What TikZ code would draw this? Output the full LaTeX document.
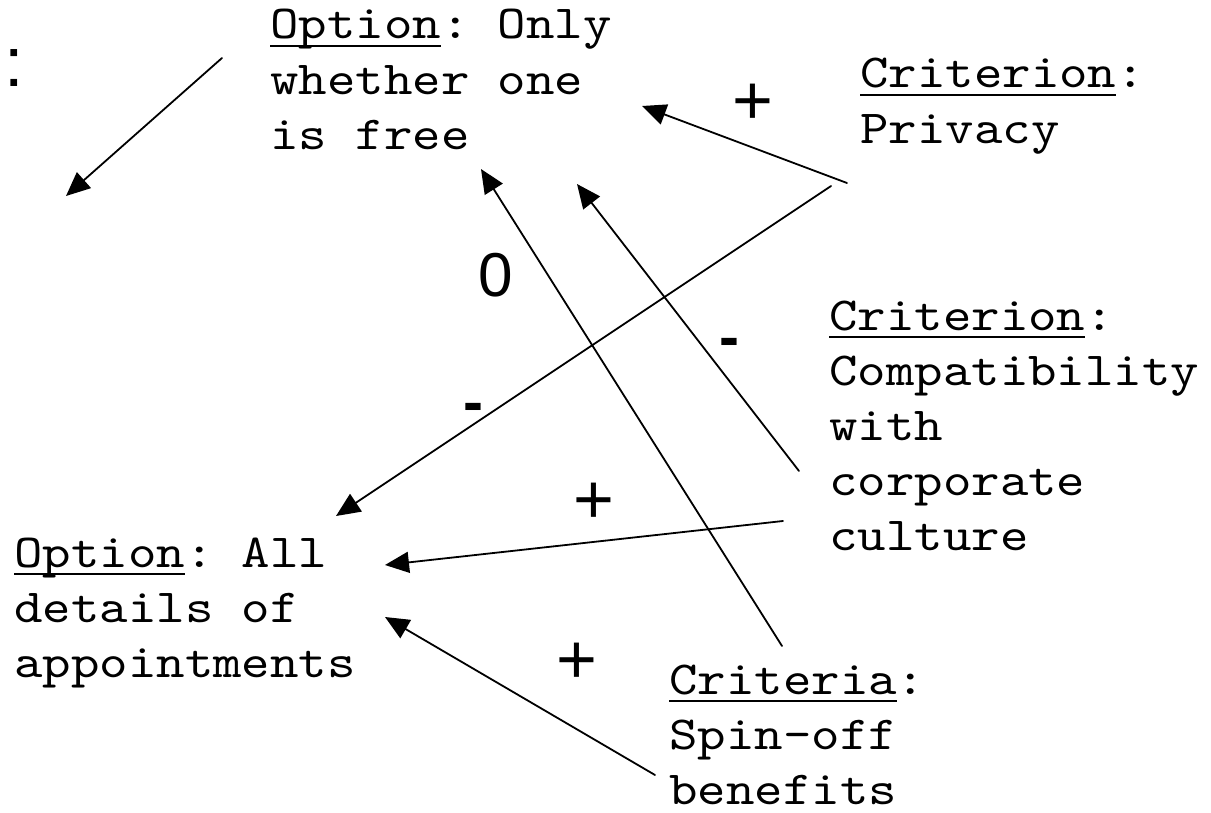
\documentclass[tikz,border=0pt]{standalone}
\usepackage{fontspec}
\setmainfont{Liberation Sans}
\setmonofont{lmmono10-regular.otf}[FakeStretch=1.143]
\usetikzlibrary{arrows.meta}
\newsavebox\ulbox
\newcommand{\ulword}[1]{\sbox\ulbox{#1}\rlap{\rule[-4pt]{\wd\ulbox}{1pt}}\usebox\ulbox}
\tikzset{
    sign/.style={
        font=\fontsize{35}{40}\selectfont
    }
}

\begin{document}
\begin{tikzpicture}[x=0.5pt,y=-0.5pt, line cap=round, line join=round]

\tikzset{
  main/.style={draw=black, line width=0.9pt, -{Triangle[length=12pt,width=10.5pt]}},
  txt/.style={anchor=base west, inner sep=0pt, font=\ttfamily\fontsize{23.7}{27.6}\selectfont},
}

\useasboundingbox (0,0) rectangle (1211,813);

% options and criteria
\node[txt] (optfree) at (270,39) {\begin{tabular}[t]{@{}l@{}}\ulword{Option}: Only\\whether one\\is free\end{tabular}};
\node[txt] (privacy) at (860,88) {\begin{tabular}[t]{@{}l@{}}\ulword{Criterion}:\\Privacy\end{tabular}};
\node[txt] (compat) at (829,330) {\begin{tabular}[t]{@{}l@{}}\ulword{Criterion}:\\Compatibility\\with\\corporate\\culture\end{tabular}};
\node[txt] (optall) at (14,567) {\begin{tabular}[t]{@{}l@{}}\ulword{Option}: All\\details of\\appointments\end{tabular}};
\node[txt] (spinoff) at (669,694) {\begin{tabular}[t]{@{}l@{}}\ulword{Criteria}:\\Spin-off\\benefits\end{tabular}};

% cut-off text at the left edge
\node[anchor=base west, inner sep=0pt, font=\fontsize{35}{40}\selectfont] (cut) at (4,87) {:};

% arrow ends
\coordinate (cut-a) at (222,58);
\coordinate (cut-b) at (66,196);
\coordinate (privacy-a) at (847,183);
\coordinate (privacy-b) at (831,186);
\coordinate (compat-a) at (799,471);
\coordinate (compat-b) at (783,521);
\coordinate (spinoff-a) at (782,646);
\coordinate (spinoff-b) at (655,775);
\coordinate (optfree-a) at (642,106);
\coordinate (optfree-b) at (577,184);
\coordinate (optfree-c) at (481,169);
\coordinate (optall-a) at (336,516);
\coordinate (optall-b) at (385,565);
\coordinate (optall-c) at (385,617);

% arrows
\draw[main] (cut-a) -- (cut-b);
\draw[main] (privacy-a) -- (optfree-a);
\draw[main] (privacy-b) -- (optall-a);
\draw[main] (compat-a) -- (optfree-b);
\draw[main] (compat-b) -- (optall-b);
\draw[main] (spinoff-a) -- (optfree-c);
\draw[main] (spinoff-b) -- (optall-c);

% signs
\node[sign] (plus-a) at (753,104) {+};
\node[sign, font=\fontsize{31}{36}\selectfont] (zero) at (496,275) {0};
\node[sign, font=\bfseries\fontsize{30}{36}\selectfont] (minus-a) at (729,348) {-};
\node[sign, font=\bfseries\fontsize{30}{36}\selectfont] (minus-b) at (473,413) {-};
\node[sign] (plus-b) at (594,503) {+};
\node[sign] (plus-c) at (577,663) {+};

\end{tikzpicture}
\end{document}
